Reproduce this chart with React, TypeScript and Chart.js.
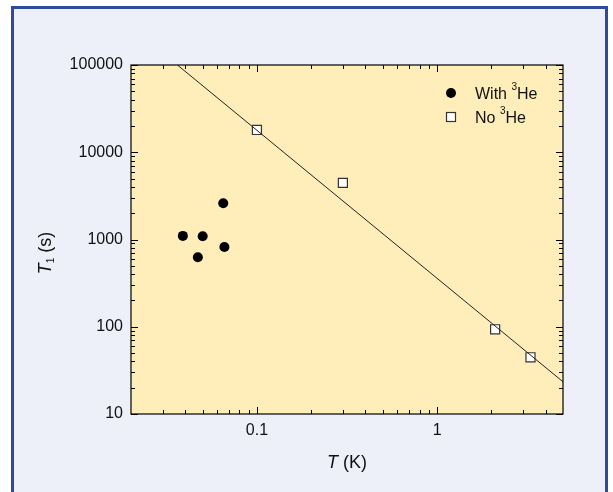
import React, { useEffect, useRef } from "react";
import { Chart, registerables } from "chart.js";

Chart.register(...registerables);

// ---- data ----
const withHeT = [0.065, 0.0388, 0.05, 0.066, 0.047];
const withHeT1 = [2600, 1100, 1090, 820, 625];
const noHeT = [0.1, 0.3, 2.1, 3.3];
const noHeT1 = [18000, 4450, 93.5, 44.7];
const fitT = [0.0362, 5];
const fitT1 = [100000, 23.4];

const xMajorTicks = [0.1, 1];
const xTickLabels = ["0.1", "1"];
const xMinorTicks = [0.03, 0.04, 0.05, 0.06, 0.07, 0.08, 0.09, 0.2, 0.3, 0.4, 0.5, 0.6, 0.7, 0.8, 0.9, 2, 3, 4];
const yMajorTicks = [10, 100, 1000, 10000, 100000];
const yTickLabels = ["10", "100", "1000", "10000", "100000"];
const yMinorTicks = [
  20, 30, 40, 50, 60, 70, 80, 90,
  200, 300, 400, 500, 600, 700, 800, 900,
  2000, 3000, 4000, 5000, 6000, 7000, 8000, 9000,
  20000, 30000, 40000, 50000, 60000, 70000, 80000, 90000,
];
const legendLabels = ["With ", "No "];

const FONT = "'Liberation Sans', Arial, Helvetica, sans-serif";
const PLOT_BG = "#FFEEBA";
const TEXT = "#111111";

const toXY = (xs: number[], ys: number[]) => xs.map((x, i) => ({ x, y: ys[i] }));

const decoPlugin = {
  id: "deco",
  beforeDatasetsDraw(chart: any) {
    const { ctx, chartArea: a } = chart;
    ctx.save();
    ctx.fillStyle = PLOT_BG;
    ctx.fillRect(a.left, a.top, a.right - a.left, a.bottom - a.top);
    ctx.restore();
  },
  afterDatasetsDraw(chart: any) {
    const { ctx, chartArea: a } = chart;
    const xs = chart.scales.x;
    const ys = chart.scales.y;
    ctx.save();
    ctx.strokeStyle = "#000";
    ctx.lineWidth = 1.2;
    ctx.strokeRect(a.left, a.top, a.right - a.left, a.bottom - a.top);
    ctx.lineWidth = 1;
    const major = 7;
    const minor = 4;
    ctx.beginPath();
    const xt = (v: number, len: number) => {
      const p = Math.round(xs.getPixelForValue(v)) + 0.5;
      ctx.moveTo(p, a.bottom);
      ctx.lineTo(p, a.bottom - len);
      ctx.moveTo(p, a.top);
      ctx.lineTo(p, a.top + len);
    };
    const yt = (v: number, len: number) => {
      const p = Math.round(ys.getPixelForValue(v)) + 0.5;
      ctx.moveTo(a.left, p);
      ctx.lineTo(a.left + len, p);
      ctx.moveTo(a.right, p);
      ctx.lineTo(a.right - len, p);
    };
    xMajorTicks.forEach((v) => xt(v, major));
    xMinorTicks.forEach((v) => xt(v, minor));
    yMajorTicks.forEach((v) => yt(v, major));
    yMinorTicks.forEach((v) => yt(v, minor));
    ctx.stroke();

    // legend
    const lx = a.right - 112;
    const ly = a.top + 28;
    ctx.fillStyle = "#000";
    ctx.beginPath();
    ctx.arc(lx, ly, 5, 0, Math.PI * 2);
    ctx.fill();
    ctx.fillStyle = "#fff";
    ctx.strokeStyle = "#333";
    ctx.lineWidth = 1.2;
    ctx.fillRect(lx - 4.5, ly + 24 - 4.5, 9, 9);
    ctx.strokeRect(lx - 4.5, ly + 24 - 4.5, 9, 9);

    const drawSup = (x: number, y: number, pre: string) => {
      ctx.fillStyle = TEXT;
      ctx.textAlign = "left";
      ctx.textBaseline = "alphabetic";
      ctx.font = `16px ${FONT}`;
      ctx.fillText(pre, x, y);
      let cx = x + ctx.measureText(pre).width;
      ctx.font = `10px ${FONT}`;
      ctx.fillText("3", cx, y - 9);
      cx += ctx.measureText("3").width;
      ctx.font = `16px ${FONT}`;
      ctx.fillText("He", cx, y);
    };
    drawSup(lx + 24, ly + 5.5, legendLabels[0]);
    drawSup(lx + 24, ly + 29.5, legendLabels[1]);

    // x title
    ctx.fillStyle = TEXT;
    ctx.textBaseline = "alphabetic";
    ctx.textAlign = "left";
    const xtFont = 18;
    ctx.font = `italic ${xtFont}px ${FONT}`;
    const wT = ctx.measureText("T").width;
    ctx.font = `${xtFont}px ${FONT}`;
    const wK = ctx.measureText(" (K)").width;
    const cxm = (a.left + a.right) / 2;
    const sx = cxm - (wT + wK) / 2;
    ctx.font = `italic ${xtFont}px ${FONT}`;
    ctx.fillText("T", sx, 468);
    ctx.font = `${xtFont}px ${FONT}`;
    ctx.fillText(" (K)", sx + wT, 468);

    // y title
    ctx.save();
    ctx.translate(51, 253);
    ctx.rotate(-Math.PI / 2);
    const ytFont = 18;
    ctx.font = `italic ${ytFont}px ${FONT}`;
    const w1 = ctx.measureText("T").width;
    ctx.font = `10px ${FONT}`;
    const w2 = ctx.measureText("1").width;
    ctx.font = `${ytFont}px ${FONT}`;
    const w3 = ctx.measureText(" (s)").width;
    let tx = -(w1 + w2 + w3) / 2;
    ctx.font = `italic ${ytFont}px ${FONT}`;
    ctx.fillText("T", tx, 0);
    tx += w1;
    ctx.font = `10px ${FONT}`;
    ctx.fillText("1", tx, 3);
    tx += w2;
    ctx.font = `${ytFont}px ${FONT}`;
    ctx.fillText(" (s)", tx, 0);
    ctx.restore();

    ctx.restore();
  },
};

export default function App() {
  const ref = useRef<HTMLCanvasElement | null>(null);
  useEffect(() => {
    if (!ref.current) return;
    const chart = new Chart(ref.current, {
      type: "scatter",
      data: {
        datasets: [
          {
            label: "fit",
            data: toXY(fitT, fitT1),
            showLine: true,
            borderColor: "#222",
            borderWidth: 1,
            pointRadius: 0,
            pointHoverRadius: 0,
          },
          {
            label: "No 3He",
            data: toXY(noHeT, noHeT1),
            pointStyle: "rect",
            pointRadius: 6.4,
            backgroundColor: "#ffffff",
            borderColor: "#333333",
            borderWidth: 1.2,
          },
          {
            label: "With 3He",
            data: toXY(withHeT, withHeT1),
            pointStyle: "circle",
            pointRadius: 5,
            backgroundColor: "#000000",
            borderColor: "#000000",
            borderWidth: 0,
          },
        ],
      },
      options: {
        animation: false,
        responsive: false,
        devicePixelRatio: 1,
        events: [],
        layout: { padding: { left: 0, top: 65, right: 50, bottom: 0 } },
        plugins: { legend: { display: false }, tooltip: { enabled: false } },
        scales: {
          x: {
            type: "logarithmic",
            min: 0.02,
            max: 5,
            border: { display: false },
            grid: { display: false, drawTicks: false },
            afterBuildTicks: (s: any) => {
              s.ticks = xMajorTicks.map((v) => ({ value: v }));
            },
            afterFit: (s: any) => {
              s.height = 78;
            },
            ticks: {
              autoSkip: false,
              maxRotation: 0,
              padding: 7,
              color: TEXT,
              font: { family: FONT, size: 16 },
              callback: (_v: any, i: number) => xTickLabels[i],
            },
          },
          y: {
            type: "logarithmic",
            min: 10,
            max: 100000,
            border: { display: false },
            grid: { display: false, drawTicks: false },
            afterBuildTicks: (s: any) => {
              s.ticks = yMajorTicks.map((v) => ({ value: v }));
            },
            afterFit: (s: any) => {
              s.width = 131;
            },
            ticks: {
              autoSkip: false,
              padding: 8,
              color: TEXT,
              font: { family: FONT, size: 16 },
              callback: (_v: any, i: number) => yTickLabels[i],
            },
          },
        },
      },
      plugins: [decoPlugin],
    } as any);
    return () => chart.destroy();
  }, []);

  return (
    <div style={{ position: "absolute", left: 0, top: 0, width: 613, height: 492, background: "#ffffff", overflow: "hidden" }}>
      <div
        style={{
          position: "absolute",
          left: 11,
          top: 6,
          width: 597,
          height: 520,
          boxSizing: "border-box",
          border: "3px solid #2E4A9B",
          background: "#EDF0F9",
        }}
      />
      <canvas ref={ref} width={613} height={492} style={{ position: "absolute", left: 0, top: 0, width: 613, height: 492 }} />
    </div>
  );
}
